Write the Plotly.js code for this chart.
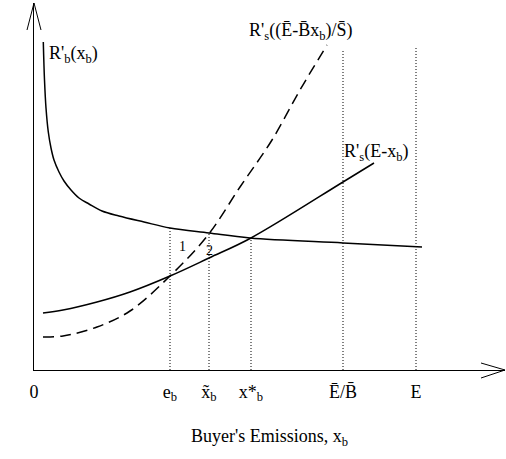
<!DOCTYPE html>
<html>
<head>
<meta charset="utf-8">
<script src="https://cdn.plot.ly/plotly-3.0.1.min.js"></script>
<style>html,body{margin:0;padding:0;background:#fff;}#chart{width:506px;height:459px;}</style>
</head>
<body>
<div id="chart"></div>
<script>
// Buyer's marginal revenue R'_b(x_b)
const rbX = [9.3, 10.5, 12, 14.3, 17, 20, 25, 30, 37, 45, 55, 68, 85, 110, 136, 175, 216, 309, 388];
const rbY = [328, 290, 262, 238, 222, 210, 198, 189, 180, 172, 166, 159, 154, 148, 142, 137, 132, 127, 123];
// Seller's marginal R'_s(E - x_b)
const rsX = [9, 29, 63, 96, 136, 175, 217, 309, 340];
const rsY = [57, 60, 68, 78, 94, 112, 132, 188, 207];
// Seller's marginal R'_s((Ē - B̄ x_b)/S̄)
const rdX = [9, 29, 63, 96, 136, 174, 206, 238, 266, 293];
const rdY = [33, 34, 43, 59, 94, 135, 183, 230, 280, 325];
// Vertical reference levels
const refX = [136, 175, 217, 309, 382];
const refTop = [142, 137, 132, 320, 323];
// Tick labels
const tickVals = [0, 136, 175, 217, 309, 382];
const tickText = ['0', 'e<sub>b</sub>', 'x\u0303<sub>b</sub>', 'x*<sub>b</sub>', 'E\u0304/B\u0304', 'E'];

const FONT = '"Times New Roman", "Liberation Serif", "DejaVu Serif", serif';
const traces = [];
for (let i = 0; i < refX.length; i++) {
  traces.push({x: [refX[i], refX[i]], y: [0, refTop[i]], mode: 'lines',
    line: {color: '#000', width: 1, dash: '1px,2px'}, hoverinfo: 'skip', showlegend: false});
}
traces.push({x: rbX, y: rbY, mode: 'lines', line: {color: '#000', width: 1.5, shape: 'spline', smoothing: 1}, showlegend: false});
traces.push({x: rsX, y: rsY, mode: 'lines', line: {color: '#000', width: 1.5, shape: 'spline', smoothing: 1}, showlegend: false});
traces.push({x: rdX, y: rdY, mode: 'lines', line: {color: '#000', width: 1.5, shape: 'spline', smoothing: 1, dash: '11px,6px'}, showlegend: false});

const ann = (x, y, text, size, xanchor) => ({x, y, xref: 'x', yref: 'y', text, showarrow: false,
  xanchor: xanchor || 'left', yanchor: 'middle', font: {family: FONT, size: size || 18, color: '#000'}});

const arrowLine = (xr, yr, xa, ya, x0, y0) => ({type: 'line', xref: xr, yref: yr,
  xsizemode: 'pixel', ysizemode: 'pixel', xanchor: xa, yanchor: ya, x0: x0, y0: y0, x1: 0, y1: 0,
  line: {color: '#000', width: 1}});

const layout = {
  width: 506, height: 459,
  margin: {l: 34, r: 1, t: 3, b: 89},
  paper_bgcolor: '#fff', plot_bgcolor: '#fff',
  font: {family: FONT, size: 18, color: '#000'},
  showlegend: false,
  xaxis: {range: [0, 471], showgrid: false, zeroline: false, showline: true, linecolor: '#000', linewidth: 1,
    tickvals: tickVals, ticktext: tickText, ticks: '', ticklabelstandoff: 5,
    tickfont: {family: FONT, size: 18, color: '#000'},
    title: {text: "Buyer's Emissions, x<sub>b</sub>", font: {family: FONT, size: 18, color: '#000'}, standoff: 26},
    fixedrange: true},
  yaxis: {range: [0, 367], showgrid: false, zeroline: false, showline: true, linecolor: '#000', linewidth: 1,
    showticklabels: false, ticks: '', fixedrange: true},
  shapes: [
    arrowLine('x domain', 'y domain', 0, 1, -7, -27),
    arrowLine('x domain', 'y domain', 0, 1, 7, -27),
    arrowLine('x domain', 'y domain', 1, 0, -24, 7),
    arrowLine('x domain', 'y domain', 1, 0, -24, -8)
  ],
  annotations: [
    ann(-20, 327, '$', 18, 'center'),
    ann(13, 316, "R'<sub>b</sub>(x<sub>b</sub>)"),
    ann(213, 339, "R'<sub>s</sub>((E\u0304-B\u0304x<sub>b</sub>)/S\u0304)"),
    ann(308, 218, "R'<sub>s</sub>(E-x<sub>b</sub>)"),
    ann(148, 124, '1', 14, 'center'),
    ann(175, 120, '2', 14, 'center')
  ]
};
Plotly.newPlot('chart', traces, layout, {displayModeBar: false, staticPlot: true});
</script>
</body>
</html>
